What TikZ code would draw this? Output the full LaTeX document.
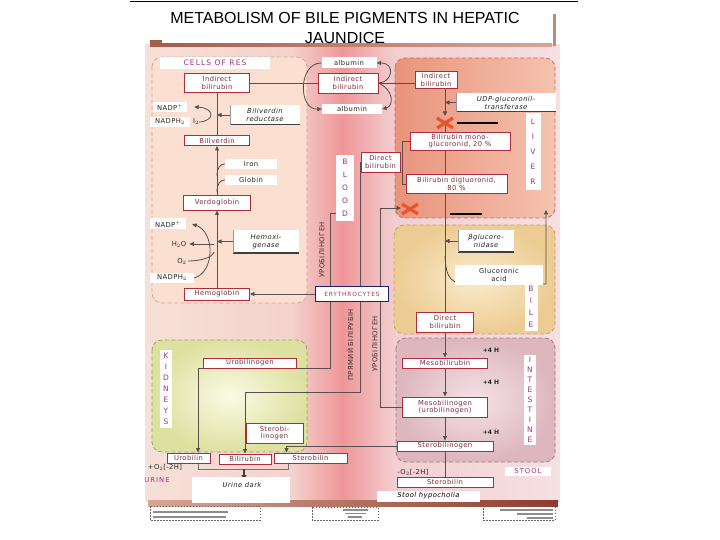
\documentclass[tikz,border=0pt]{standalone}
\usepackage{fontspec}
\setmainfont{DejaVu Sans}
\newfontfamily\lbl[LetterSpace=6]{DejaVu Sans}
\newfontfamily\spc[LetterSpace=15]{DejaVu Sans}
\newfontfamily\ttlf{Liberation Sans}
\usetikzlibrary{arrows.meta}
\pgfdeclarelayer{back}
\pgfdeclarelayer{mid}
\pgfsetlayers{back,mid,main}
\definecolor{boxred}{HTML}{B02C3C}
\definecolor{txtred}{HTML}{7A2E3A}
\definecolor{mag}{HTML}{A3307C}
\definecolor{navy}{HTML}{1E1E6E}
\definecolor{lnc}{HTML}{5A4E4E}
\definecolor{rotc}{HTML}{3C3030}
\definecolor{xcol}{HTML}{E8552A}
\definecolor{bgA}{HTML}{F6E0D8}
\definecolor{bgB}{HTML}{F4D2CE}
\definecolor{bgC}{HTML}{EE9698}
\definecolor{bgD}{HTML}{F3CFD1}
\definecolor{bgE}{HTML}{F6E0E2}
\definecolor{resF}{HTML}{FBE0D2}
\definecolor{resD}{HTML}{D8A494}
\definecolor{livA}{HTML}{E9937C}
\definecolor{livB}{HTML}{F4C3AF}
\definecolor{livD}{HTML}{C8705C}
\definecolor{bilA}{HTML}{FAEBCB}
\definecolor{bilB}{HTML}{EDCC94}
\definecolor{bilD}{HTML}{C9A066}
\definecolor{intA}{HTML}{F5E2E6}
\definecolor{intB}{HTML}{DDB6BE}
\definecolor{intD}{HTML}{A87882}
\definecolor{kidA}{HTML}{FAFAE4}
\definecolor{kidB}{HTML}{DDE1A0}
\definecolor{kidD}{HTML}{9EA070}
\definecolor{brnA}{HTML}{D9A595}
\definecolor{brnB}{HTML}{8C3C2C}
\begin{document}
\begin{tikzpicture}[x=1pt,y=-1pt,
  conn/.style={draw=lnc, line width=0.8pt},
  arr/.style={-{Triangle[length=4.5pt,width=4pt]}},
  bx/.style={draw=boxred, fill=white, line width=0.9pt, text=txtred, font=\lbl\fontsize{6.8}{7.4}\selectfont, align=center, inner sep=0.5pt},
  wlab/.style={fill=white, text=black!85, font=\lbl\fontsize{6.8}{7.4}\selectfont, align=center, inner sep=0.5pt},
  enz/.style={wlab, font=\lbl\itshape\fontsize{6.8}{8}\selectfont,
    path picture={\draw[black!75,line width=2pt] (path picture bounding box.south west) -- (path picture bounding box.south east);
                  \draw[black!40,line width=1pt] (path picture bounding box.south west) -- (path picture bounding box.north west);}},
  sz/.style 2 args={minimum width=#1pt, minimum height=#2pt},
  mlab/.style={fill=white, text=mag, font=\spc\fontsize{7.5}{#1}\selectfont, align=center, inner sep=0.5pt},
  plain/.style={text=black!85, font=\lbl\fontsize{6.8}{7.4}\selectfont, inner sep=0pt},
  rot/.style={rotate=90, text=rotc, font=\lbl\fontsize{6.8}{8}\selectfont, inner sep=0pt},
  xcr/.style={draw=xcol, line width=3.2pt},
  regn/.style={dash pattern=on 4pt off 2.5pt, line width=0.8pt, rounded corners=10pt}
]
\useasboundingbox (0,0) rectangle (720,540);

% ---------- background layer ----------
\begin{pgfonlayer}{back}
\fill[white] (0,0) rectangle (720,540);
\fill[left color=bgA,right color=bgB] (145,45) rectangle (292.5,501);
\fill[left color=bgB,right color=bgC] (292,45) rectangle (342.5,501);
\fill[left color=bgC,right color=bgD] (342,45) rectangle (395.5,501);
\fill[left color=bgD,right color=bgE] (395,45) rectangle (560,501);
% header and footer bands
\fill[left color=brnB!70!brnA, right color=brnA] (150,41) rectangle (552,47);
\fill[black!15!brnA] (553,14) rectangle (556,46);
\fill[left color=brnA, right color=brnB] (148,500) rectangle (558,506);
% regions
\draw[regn, draw=resD, fill=resF] (152,57) rectangle (307,303);
\draw[regn, draw=livD, left color=livA, right color=livB] (395,58) rectangle (555,218);
\draw[regn, draw=bilD, inner color=bilA, outer color=bilB] (394,225) rectangle (555,334);
\draw[regn, draw=intD, inner color=intA, outer color=intB] (396,338) rectangle (555,462);
\draw[regn, draw=kidD, inner color=kidA, outer color=kidB] (152,340) rectangle (307,452);
% bottom decorations
\draw[black!60, dash pattern=on 1.5pt off 1.5pt, line width=0.6pt] (150,506) rectangle (260,520);
\draw[black!45, line width=1.3pt] (153,512) -- (228,512) (153,517) -- (226,517);
\draw[black!60, dash pattern=on 1.5pt off 1.5pt, line width=0.6pt] (312,507) rectangle (378,520);
\draw[black!45, line width=1.1pt] (343,510) -- (368,510) (345,513.5) -- (366,513.5) (348,517) -- (362,517);
\draw[black!60, dash pattern=on 1.5pt off 1.5pt, line width=0.6pt] (483,505) rectangle (555,520);
\draw[black!45, line width=1.2pt] (500,510) -- (553,510) (517,514) -- (553,514) (527,518) -- (553,518);
\end{pgfonlayer}

% ---------- title ----------
\draw[line width=1pt] (130,2) -- (578,2);
\node[fill=white, minimum width=391pt, minimum height=35pt, inner sep=0pt] (tbox) at (357.5,25.5) {};
\node[font=\ttlf\fontsize{16}{19.5}\selectfont, align=center, inner sep=0pt] (title) at (345,28) {METABOLISM OF BILE PIGMENTS IN HEPATIC\\JAUNDICE};

% ---------- RES ----------
\node[mlab=8, sz={110}{12}] (resl) at (215,63) {CELLS OF RES};
\node[bx, sz={65}{19}] (ibR) at (217,83) {Indirect\\bilirubin};
\node[wlab, sz={34}{10}] (nadpA) at (170,107) {NADP$^+$};
\node[wlab, sz={40}{10}] (nadphA) at (170,122) {NADPH$_2$};
\node[plain] (i2) at (196,122) {I$_2$};
\node[enz, sz={70}{20}] (bvr) at (265,115) {Biliverdin\\reductase};
\node[bx, sz={65}{10}] (bv) at (217,140.5) {Biliverdin};
\node[wlab, sz={52}{10}] (iron) at (251,164) {Iron};
\node[wlab, sz={52}{10}] (globin) at (251,180) {Globin};
\node[bx, sz={67}{15}] (vg) at (217,202.5) {Verdoglobin};
\node[wlab, sz={36}{11}] (nadpB) at (168,224) {NADP$^+$};
\node[enz, sz={66}{23}] (hmx) at (266,241.5) {Hemoxi-\\genase};
\node[plain] (h2o) at (179,244) {H$_2$O};
\node[plain] (o2) at (182,261) {O$_2$};
\node[wlab, sz={44}{10}] (nadphB) at (172,278) {NADPH$_2$};
\node[bx, sz={65}{12}] (hb) at (217,294) {Hemoglobin};
\node[draw=navy, fill=white, line width=0.9pt, text=boxred, font=\spc\fontsize{5.8}{7}\selectfont, sz={73}{15}, inner sep=0.5pt] (ery) at (352,294) {ERYTHROCYTES};

% ---------- blood ----------
\node[wlab, sz={55}{11}] (albA) at (349,63) {albumin};
\node[bx, sz={60}{20}] (ibB) at (348,83) {Indirect\\bilirubin};
\node[wlab, sz={60}{10}] (albB) at (352,109) {albumin};
\node[mlab=13, sz={18}{66}] (blood) at (345,188) {B\\L\\O\\O\\D};
\node[bx, sz={39}{20}] (dbB) at (380.5,162) {Direct\\bilirubin};
\node[rot] (uroA) at (322,250) {УРОБІЛІНОГЕН};
\node[rot] (pb) at (350,345) {ПРЯМИЙ БІЛІРУБІН};
\node[rot] (uroB) at (375,344) {УРОБІЛІНОГЕН};

% ---------- liver ----------
\node[bx, sz={42}{17}] (ibL) at (436,80) {Indirect\\bilirubin};
\node[enz, sz={100}{19}] (udp) at (506,102.5) {UDP-glucoronil-\\transferase};
\coordinate (x1) at (445,123);
\node[bx, sz={100}{18}] (mono) at (460,141) {Bilirubin mono-\\glucoronid, 20 \%};
\node[bx, sz={101}{19}] (di) at (456.5,184) {Bilirubin digluoronid,\\80 \%};
\coordinate (x2) at (410,209);
\node[mlab=15, sz={15}{77}] (liver) at (533,152) {L\\I\\V\\E\\R};

% ---------- bile ----------
\node[enz, sz={56}{22}] (bgl) at (486,241) {βglucoro-\\nidase};
\node[wlab, sz={88}{20}] (gla) at (499,275) {Glucoronic\\acid};
\node[mlab=12, sz={13}{48}] (bile) at (531,307) {B\\I\\L\\E};
\node[bx, sz={57}{20}] (dbI) at (445,322) {Direct\\bilirubin};

% ---------- intestine ----------
\node[plain, font=\bfseries\fontsize{6}{7}\selectfont] (h1) at (491,350) {+4 H};
\node[plain, font=\bfseries\fontsize{6}{7}\selectfont] (h2) at (491,382) {+4 H};
\node[plain, font=\bfseries\fontsize{6}{7}\selectfont] (h3) at (491,432) {+4 H};
\node[bx, sz={85}{10}] (meso) at (445,363) {Mesobilirubin};
\node[bx, sz={85}{20}] (mesog) at (445,407) {Mesobilinogen\\(urobilinogen)};
\node[bx, sz={96}{10}] (sgen) at (445,446) {Sterobilinogen};
\node[mlab=10, sz={12}{90}] (intl) at (530,400) {I\\N\\T\\E\\S\\T\\I\\N\\E};

% ---------- kidneys ----------
\node[mlab=11, sz={12}{78}] (kid) at (166,389) {K\\I\\D\\N\\E\\Y\\S};
\node[bx, sz={93}{10}] (ugen) at (250,363) {Urobilinogen};
\node[bx, sz={57}{20}] (sbl) at (274.5,433) {Sterobi-\\linogen};
\node[bx, sz={43}{10}] (urob) at (188.5,458) {Urobilin};
\node[bx, sz={52}{10}] (bili) at (245,459) {Bilirubin};
\node[bx, sz={73}{10}] (sbil) at (310.5,458) {Sterobilin};
\node[plain] (o2a) at (165,467) {+O$_2$[-2H]};
\node[plain, text=mag, font=\spc\fontsize{6.8}{7}\selectfont] (urine) at (157,480) {URINE};
\node[fill=white, sz={98}{26}, inner sep=0pt] (udbox) at (241,490) {};
\node[plain, font=\lbl\itshape\fontsize{6.8}{7}\selectfont] (udt) at (242,485) {Urine dark};
\node[plain] (o2b) at (413,472) {-O$_2$[-2H]};
\node[fill=white, text=mag, font=\spc\fontsize{6.8}{7}\selectfont, sz={46}{9}, inner sep=0pt] (stool) at (528,471) {STOOL};
\node[bx, sz={96}{10}] (sbr) at (445,482) {Sterobilin};
\node[fill=white, font=\lbl\itshape\fontsize{6.8}{7}\selectfont, sz={103}{11}, inner sep=0pt] (sh) at (428.5,496) {Stool hypocholia};

% ---------- connectors ----------
\begin{pgfonlayer}{mid}
% RES chain
\draw[conn,arr] (hb.north) -- (vg.south);
\draw[conn,arr] (vg.north) -- (bv.south);
\draw[conn] (bv.north) -- (ibR.south);
\draw[conn,arr] (bvr.west) -- (bvr.west -| bv.north);
\draw[conn,arr] (i2.east) .. controls (215,121) and (215,108) .. ([xshift=7pt]nadpA.east);
\coordinate (j1) at (217,176);
\coordinate (j2) at (217,192);
\draw[conn] (j1) .. controls (217,168) and (220,164) .. (iron.west);
\draw[conn] (j2) .. controls (217,184) and (220,180) .. (globin.west);
\draw[conn,arr] (hmx.west) -- (hmx.west -| vg.south);
\draw[conn,arr] (nadphB.east) .. controls (215,272) and (215,232) .. ([xshift=6pt]nadpB.east);
\coordinate (j3) at (214,244);
\coordinate (j4) at (214,252);
\draw[conn,arr] (j3) -- ([xshift=3pt]h2o.east);
\draw[conn] ([xshift=1pt]o2.east) .. controls (200,261) and (212,258) .. (j4);
\draw[conn,arr] (ery.west) -- (hb.east);
% blood
\draw[conn] (ibR.east) -- (ibB.west);
\draw[conn,arr] (albA.west) .. controls (298,63) and (298,110) .. (albB.west);
\draw[conn,arr] (ibB.east) .. controls (392,83) and (396,63) .. (albA.east);
\draw[conn,arr] (ibB.east) .. controls (394,90) and (394,106) .. (albB.east);
\draw[conn] (ibB.east) -- (ibB.east -| ibL.west);
% liver
\coordinate (x1t) at (445,116);
\draw[conn,arr] (ibL.south -| x1) -- (x1t);
\draw[conn,arr] (udp.west) -- (udp.west -| x1);
\draw[conn] (x1) -- (x1 |- mono.north);
\draw[conn] (x1 |- mono.south) -- (x1 |- di.north);
\draw[conn] (x1 |- di.south) -- (dbI.north);
\draw[conn] (mono.west) -- ++(-7,0) |- (di.west);
\draw[conn,arr] (bgl.west) -- (bgl.west -| dbI.north);
\coordinate (g0) at (445,256);
\coordinate (g1) at (546,210);
\draw[conn,arr] (g0) .. controls (446,280) and (452,284) .. (470,284) -| (g1);
% urobilinogen return to liver
\coordinate (x2l) at (401,208);
\coordinate (u2) at (380,208);
\draw[conn,arr] (mesog.west) -| (u2) -- (x2l);
\coordinate (u1) at (330,213);
\coordinate (u1e) at (345,213);
\draw[conn] (ugen.south east) -| (u1) -- (u1e);
% direct bilirubin to urine
\coordinate (p1) at (360,392);
\draw[conn,arr] (dbB.west) -| (p1) -| (bili.north);
% kidney
\draw[conn,arr] (ugen.south west) -- ++(-5,0) coordinate (k1) -- (k1 |- urob.north);
\draw[conn,arr] (sgen.west) -- ++(-110,0) coordinate (k2) -- (k2 |- sbil.north);
% intestine
\draw[conn,arr] (dbI.south) -- (meso.north);
\draw[conn,arr] (meso.south) -- (mesog.north);
\draw[conn,arr] (mesog.south) -- (sgen.north);
\draw[conn] (sgen.south) -- (sbr.north);
% urine bracket
\coordinate (b1) at (198,464);
\coordinate (b2) at (288,464);
\coordinate (bk) at (244,469);
\coordinate (bke) at (244,480);
\draw[conn, draw=black!55] (b1) -- ++(0,5) -| (b2);
\draw[draw=black!75, line width=1.6pt, -{Triangle[length=5pt,width=5pt]}] (bk) -- (bke);
\end{pgfonlayer}

% crosses and bars
\draw[xcr] ([shift={(-8,-5)}]x1) -- ([shift={(8,5)}]x1) ([shift={(-8,5)}]x1) -- ([shift={(8,-5)}]x1);
\draw[black, line width=2pt] (457,123) -- (498,123);
\draw[xcr] ([shift={(-8,-5)}]x2) -- ([shift={(8,5)}]x2) ([shift={(-8,5)}]x2) -- ([shift={(8,-5)}]x2);
\draw[black, line width=2pt] (450,214) -- (482,214);
\end{tikzpicture}
\end{document}
